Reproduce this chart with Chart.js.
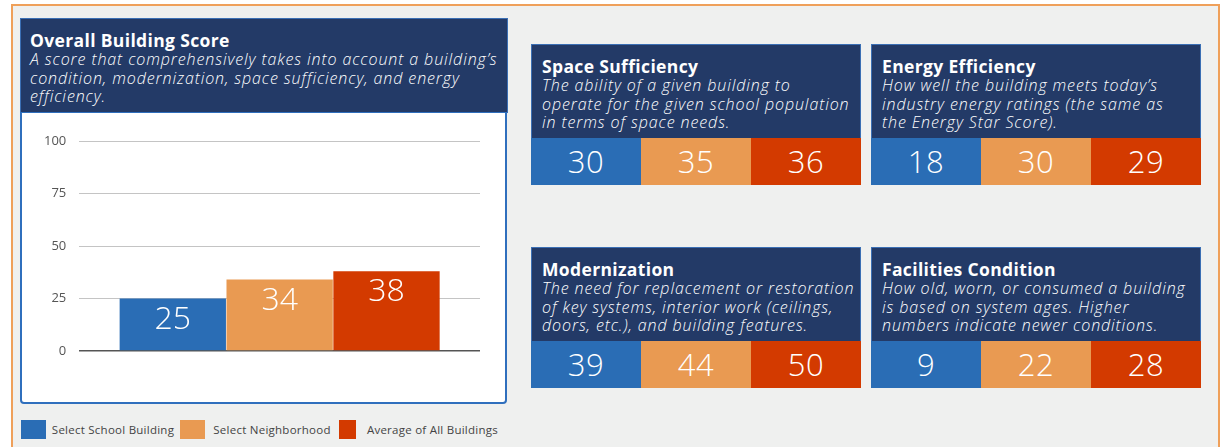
<!DOCTYPE html>
<html>
<head>
<meta charset="utf-8">
<script src="https://cdn.jsdelivr.net/npm/chart.js@4.4.1/dist/chart.umd.min.js"></script>
<style>
  body { margin: 0; width: 1224px; height: 447px; overflow: hidden; background: #fff; position: relative; font-family: 'Open Sans', sans-serif; }
  .frame { position: absolute; left: 11px; top: 4px; width: 1205px; height: 470px; border: 2px solid #efa05a; background: #eff0ef; }
  .overall-head { position: absolute; left: 20px; top: 18px; width: 477px; height: 94px; background: #233a67; border: 1px solid #3b6fb4; border-bottom: none; padding: 0 0 0 9px; color: #fff; }
  .overall-body { position: absolute; left: 20px; top: 112px; width: 483px; height: 289px; background: #fff; border: 2px solid #2f6fbd; border-top: 1px solid #2f6fbd; border-radius: 0 0 4px 4px; }
  .title { font-weight: 700; font-size: 17.5px; letter-spacing: 0.35px; line-height: 20px; white-space: nowrap; }
  .note { font-style: italic; font-weight: 300; font-size: 16px; letter-spacing: 0.9px; line-height: 18.6px; white-space: nowrap; }
  .overall-head .title { margin-top: 11px; }
  .card { position: absolute; width: 330px; height: 141px; }
  .card-head { height: 93px; background: #233a67; border: 1px solid #3b6fb4; border-bottom: none; color: #fff; padding-left: 10px; }
  .card-head .title { margin-top: 11px; }
  .cells { display: flex; height: 47px; }
  .cells div { flex: 1; color: #fff; font-size: 31px; font-weight: 300; text-align: center; line-height: 47px; letter-spacing: 0.5px; }
  .legend { position: absolute; left: 21px; top: 420px; display: flex; align-items: center; font-size: 11.5px; letter-spacing: 0.25px; color: #444; }
  .legend .item { display: flex; align-items: center; width: 159px; }
  .legend span.sw { display: inline-block; width: 25px; height: 19px; }
  .legend span.tx { display: inline-block; width: 134px; text-align: center; white-space: nowrap; }
  .legend .item:last-child span.tx { width: auto; margin-left: 11px; }
</style>
</head>
<body>
<div class="frame"></div>
<div class="overall-head">
  <div class="title">Overall Building Score</div>
  <div class="note">A score that comprehensively takes into account a building’s<br>condition, modernization, space sufficiency, and energy<br>efficiency.</div>
</div>
<div class="overall-body">
  <div style="position:absolute;left:0;top:0;width:483px;height:289px"><canvas id="overall"></canvas></div>
</div>
<div class="legend" id="legend"></div>
<div id="cards"></div>
<script>
const seriesNames = ['Select School Building', 'Select Neighborhood', 'Average of All Buildings'];
const seriesColors = ['#2a6db5', '#e99a52', '#d33a00'];
const overallScores = [25, 34, 38];
const yTicks = [0, 25, 50, 75, 100];

const metricNames = ['Space Sufficiency', 'Energy Efficiency', 'Modernization', 'Facilities Condition'];
const metricNotes = [
  'The ability of a given building to<br>operate for the given school population<br>in terms of space needs.',
  'How well the building meets today’s<br>industry energy ratings (the same as<br>the Energy Star Score).',
  'The need for replacement or restoration<br>of key systems, interior work (ceilings,<br>doors, etc.), and building features.',
  'How old, worn, or consumed a building<br>is based on system ages. Higher<br>numbers indicate newer conditions.'
];
const schoolScores = [30, 18, 39, 9];
const neighborhoodScores = [35, 30, 44, 22];
const averageScores = [36, 29, 50, 28];

// cards on the right
const cardSpots = [[531, 44], [871, 44], [531, 247], [871, 247]];
const cardsEl = document.getElementById('cards');
metricNames.forEach((name, i) => {
  const vals = [schoolScores[i], neighborhoodScores[i], averageScores[i]];
  const card = document.createElement('div');
  card.className = 'card';
  card.style.left = cardSpots[i][0] + 'px';
  card.style.top = cardSpots[i][1] + 'px';
  card.innerHTML = `<div class="card-head"><div class="title">${name}</div><div class="note">${metricNotes[i]}</div></div>` +
    `<div class="cells">${vals.map((v, k) => `<div style="background:${seriesColors[k]}">${v}</div>`).join('')}</div>`;
  cardsEl.appendChild(card);
});

// legend
document.getElementById('legend').innerHTML = seriesNames.map((n, i) =>
  `<div class="item"><span class="sw" style="background:${seriesColors[i]}"></span><span class="tx">${n}</span></div>`).join('');

// white numbers near the top of each bar
const valueLabels = {
  id: 'valueLabels',
  afterDatasetsDraw(chart) {
    const ctx = chart.ctx;
    ctx.save();
    ctx.fillStyle = '#fff';
    ctx.font = '300 32px "Open Sans"';
    ctx.textAlign = 'center';
    ctx.textBaseline = 'middle';
    chart.data.datasets.forEach((ds, i) => {
      chart.getDatasetMeta(i).data.forEach((bar, j) => {
        ctx.fillText(ds.data[j], bar.x, bar.y + 21);
      });
    });
    ctx.restore();
  }
};

new Chart(document.getElementById('overall'), {
  type: 'bar',
  data: {
    labels: ['Overall Building Score'],
    datasets: seriesNames.map((n, i) => ({
      label: n,
      data: [overallScores[i]],
      backgroundColor: seriesColors[i],
      borderWidth: 0,
    })),
  },
  options: {
    responsive: true,
    maintainAspectRatio: false,
    animation: false,
    categoryPercentage: 0.8,
    barPercentage: 0.995,
    layout: { padding: { left: 9, right: 25, top: 28, bottom: 51 } },
    plugins: { legend: { display: false }, tooltip: { enabled: false } },
    scales: {
      x: { display: false },
      y: {
        min: 0,
        max: 100,
        border: { display: false },
        grid: {
          drawTicks: false,
          color: c => (c.tick && c.tick.value === 0 ? '#555' : '#c4c4c4'),
          lineWidth: c => (c.tick && c.tick.value === 0 ? 1.5 : 1),
        },
        afterBuildTicks: axis => { axis.ticks = yTicks.map(v => ({ value: v })); },
        ticks: { padding: 13, color: '#555', font: { family: 'Open Sans', size: 13 } },
      },
    },
  },
  plugins: [valueLabels],
});
</script>
</body>
</html>
